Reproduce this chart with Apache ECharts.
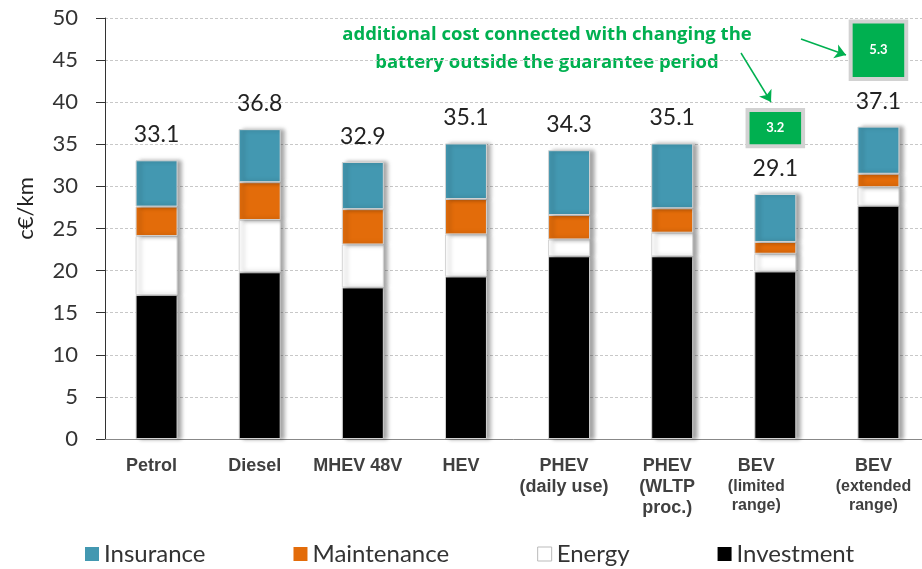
<!DOCTYPE html>
<html>
<head>
<meta charset="utf-8">
<title>Cost per km</title>
<script src="https://cdn.jsdelivr.net/npm/echarts@6/dist/echarts.min.js"></script>
<style>
  html, body { margin: 0; padding: 0; background: #fff; }
  #chart { width: 922px; height: 569px; }
</style>
</head>
<body>
<div id="chart"></div>
<script>
const categories = [
  "Petrol", "Diesel", "MHEV 48V", "HEV",
  "PHEV\n(daily use)", "PHEV\n(WLTP\nproc.)",
  "BEV\n(limited\nrange)", "BEV\n(extended\nrange)",
];
const investment = [17.1, 19.8, 18.0, 19.3, 21.7, 21.7, 19.9, 27.7];
const energy = [7.0, 6.2, 5.1, 5.0, 2.0, 2.8, 2.1, 2.2];
const maintenance = [3.5, 4.5, 4.2, 4.2, 2.9, 2.9, 1.4, 1.6];
const insurance = [5.5, 6.3, 5.6, 6.6, 7.7, 7.7, 5.7, 5.6];
const totals = [33.1, 36.8, 32.9, 35.1, 34.3, 35.1, 29.1, 37.1];
// extra battery cost, only for the BEVs
const batteryCost = [null, null, null, null, null, null, 3.2, 5.3];

const GREEN = "#00B050";

const barStyle = (color) => ({
  color: color,
  borderColor: "#d4d4d4",
  borderWidth: 1,
  shadowColor: "rgba(0,0,0,0.35)",
  shadowBlur: 4,
  shadowOffsetX: 4,
});

const xLabel = (name) => {
  const lines = name.split("\n");
  const small = name.startsWith("BEV");
  return lines
    .map((l, i) => (i > 0 && small ? "{s|" + l + "}" : "{b|" + l + "}"))
    .join("\n");
};

const batteryRender = (params, api) => {
  const i = api.value(0);
  const v = api.value(1);
  const base = totals[i] + 5.9;
  const p0 = api.coord([i, base]);
  const p1 = api.coord([i, base + v * 1.2]);
  const w = api.size([1, 0])[0] * 0.5;
  const h = p0[1] - p1[1];
  return {
    type: "group",
    children: [
      {
        type: "rect",
        shape: { x: p0[0] - w / 2 - 4, y: p1[1] - 4, width: w + 8, height: h + 8 },
        style: { fill: "#d2d2d2" },
      },
      {
        type: "rect",
        shape: { x: p0[0] - w / 2, y: p1[1], width: w, height: h },
        style: { fill: GREEN },
      },
      {
        type: "text",
        style: {
          text: String(v),
          x: p0[0],
          y: p1[1] + h / 2,
          align: "center",
          verticalAlign: "middle",
          fill: "#fff",
          font: "bold 13px Lato",
        },
      },
    ],
  };
};

const chart = echarts.init(document.getElementById("chart"));

chart.setOption({
  animation: false,
  grid: { left: 105, top: 18, width: 825, height: 421, outerBoundsMode: "none" },
  legend: {
    left: 80,
    top: 537,
    itemWidth: 14,
    itemHeight: 14,
    itemGap: 88,
    icon: "rect",
    textStyle: { fontFamily: "Lato", fontSize: 24, color: "#333" },
    data: [
      { name: "Insurance", itemStyle: { borderWidth: 0 } },
      { name: "Maintenance", itemStyle: { borderWidth: 0 } },
      { name: "Energy", itemStyle: { borderColor: "#bbb", borderWidth: 1 } },
      { name: "Investment", itemStyle: { borderWidth: 0 } },
    ],
  },
  xAxis: {
    type: "category",
    data: categories.map((c, i) =>
      i === 6 ? { value: c, textStyle: { padding: [0, 38, 0, 0] } } : c
    ),
    axisLine: { lineStyle: { color: "#888" } },
    axisTick: { length: 6, lineStyle: { color: "#888" } },
    axisLabel: {
      margin: 17,
      interval: 0,
      padding: [0, 10, 0, 0],
      formatter: xLabel,
      rich: {
        b: { fontFamily: "Liberation Sans", fontWeight: "bold", fontSize: 18, lineHeight: 21, color: "#404040" },
        s: { fontFamily: "Liberation Sans", fontWeight: "bold", fontSize: 16, lineHeight: 19, color: "#404040" },
      },
    },
  },
  yAxis: {
    type: "value",
    min: 0,
    max: 50,
    interval: 5,
    name: "c€/km",
    nameLocation: "middle",
    nameGap: 68,
    nameTextStyle: { fontFamily: "Lato", fontSize: 22, color: "#222", padding: [0, 0, 0, 40] },
    axisLine: { show: true, lineStyle: { color: "#333" } },
    axisTick: { show: true, length: 9, lineStyle: { color: "#333" } },
    axisLabel: { margin: 27, fontFamily: "Lato", fontSize: 22, color: "#333" },
    splitLine: { lineStyle: { color: "#c8c8c8", type: [3, 2] } },
  },
  series: [
    {
      name: "Investment",
      type: "bar",
      stack: "cost",
      barWidth: 42,
      data: investment,
      itemStyle: barStyle("#000"),
      markLine: {
        silent: true,
        symbol: ["none", "arrow"],
        symbolSize: 11,
        label: { show: false },
        lineStyle: { color: GREEN, width: 1.5, type: "solid" },
        data: [
          [{ x: 741, y: 53 }, { x: 771, y: 102 }],
          [{ x: 801, y: 39 }, { x: 846, y: 55 }],
        ],
      },
    },
    { name: "Energy", type: "bar", stack: "cost", data: energy, itemStyle: barStyle("#fff") },
    { name: "Maintenance", type: "bar", stack: "cost", data: maintenance, itemStyle: barStyle("#E36C0A") },
    {
      name: "Insurance",
      type: "bar",
      stack: "cost",
      data: insurance,
      itemStyle: barStyle("#4398B1"),
      label: {
        show: true,
        position: "top",
        distance: 14,
        fontFamily: "Lato",
        fontSize: 23,
        color: "#222",
        formatter: (p) => totals[p.dataIndex].toFixed(1),
      },
    },
    {
      name: "Battery",
      type: "custom",
      renderItem: batteryRender,
      encode: { x: 0, y: 1 },
      data: batteryCost
        .map((v, i) => (v === null ? null : [i, v]))
        .filter((d) => d !== null),
      z: 5,
    },
  ],
  graphic: [
    {
      type: "text",
      x: 547,
      y: 21,
      style: {
        text: "additional cost connected with changing the\nbattery outside the guarantee period",
        align: "center",
        fill: GREEN,
        font: "bold 18.5px 'Open Sans'",
        lineHeight: 28,
      },
    },
  ],
});

window.addEventListener("resize", () => chart.resize());
</script>
</body>
</html>
